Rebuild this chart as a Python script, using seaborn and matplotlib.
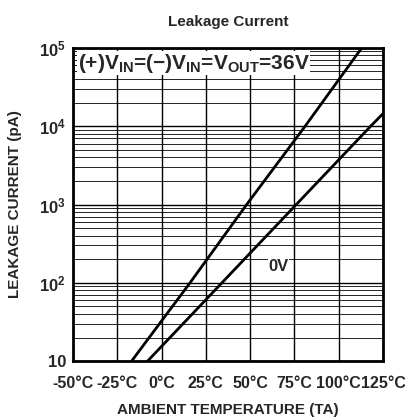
import numpy as np
import pandas as pd
import matplotlib
matplotlib.use("Agg")
import matplotlib.pyplot as plt
import seaborn as sns
from matplotlib.ticker import LogLocator, FixedLocator

# Data (temperature in C, leakage current in pA)
temp_36v = [-17, 16, 48, 81, 113]
current_36v = [10, 100, 1000, 10000, 100000]
temp_0v = [-8, 34, 76, 118, 125]
current_0v = [10, 100, 1000, 10000, 14500]

x_ticks = [-50, -25, 0, 25, 50, 75, 100, 125]
x_labels = ["-50°C", "-25°C", "0°C", "25°C", "50°C", "75°C", "100°C", "125°C"]
y_ticks = [10, 100, 1000, 10000, 100000]
y_labels = ["10", r"10$^2$", r"10$^3$", r"10$^4$", r"10$^5$"]

df = pd.concat([
    pd.DataFrame({"temp": temp_36v, "current": current_36v, "bias": "36V"}),
    pd.DataFrame({"temp": temp_0v, "current": current_0v, "bias": "0V"}),
])

sns.set_style("white")
plt.rcParams['font.family'] = ['Liberation Sans', 'DejaVu Sans']
plt.rcParams['font.weight'] = 'bold'
plt.rcParams['mathtext.fontset'] = 'custom'
plt.rcParams['mathtext.rm'] = 'Liberation Sans:bold'
plt.rcParams['mathtext.bf'] = 'Liberation Sans:bold'
plt.rcParams['mathtext.default'] = 'bf'

fig = plt.figure(figsize=(4.2, 4.2), dpi=100)
ax = fig.add_axes([0.174, 0.14, 0.738, 0.746])

sns.lineplot(data=df, x="temp", y="current", units="bias", estimator=None,
             color="black", linewidth=2.0, legend=False, ax=ax, zorder=3)

ax.set_yscale("log")
ax.set_xlim(-50, 125)
ax.set_ylim(10, 100000)

ax.xaxis.set_major_locator(FixedLocator(x_ticks))
ax.set_xticklabels(x_labels)
ax.yaxis.set_major_locator(FixedLocator(y_ticks))
ax.set_yticklabels(y_labels)
ax.yaxis.set_minor_locator(LogLocator(base=10, subs=np.arange(2, 10)))

ax.grid(True, which="major", color="black", linewidth=1.0)
ax.grid(True, which="minor", axis="y", color="black", linewidth=0.6)
ax.tick_params(which="both", length=0)
ax.tick_params(axis="x", labelsize=11.5, pad=11)
ax.tick_params(axis="y", labelsize=12, pad=5)
for lab in ax.get_xticklabels() + ax.get_yticklabels():
    lab.set_fontweight("bold")

for s in ax.spines.values():
    s.set_color("black")
    s.set_linewidth(2.0)

ax.set_xlabel("AMBIENT TEMPERATURE (TA)", fontsize=11, fontweight="bold", labelpad=8)
ax.set_ylabel("LEAKAGE CURRENT (pA)", fontsize=11, fontweight="bold", labelpad=12)
ax.set_title("Leakage Current", fontsize=11, fontweight="bold", pad=16)

ax.text(-47.5, 64000, r"(+)V$_{\mathbf{IN}}$=(−)V$_{\mathbf{IN}}$=V$_{\mathbf{OUT}}$=36V",
        fontsize=15, fontweight="bold", va="center", ha="left", zorder=4,
        bbox=dict(facecolor="white", edgecolor="none", pad=0.3))
ax.text(66, 160, "0V", fontsize=12, fontweight="bold", va="center", ha="center", zorder=4,
        bbox=dict(facecolor="white", edgecolor="none", pad=0.5))

fig.savefig("out.png", dpi=100)
